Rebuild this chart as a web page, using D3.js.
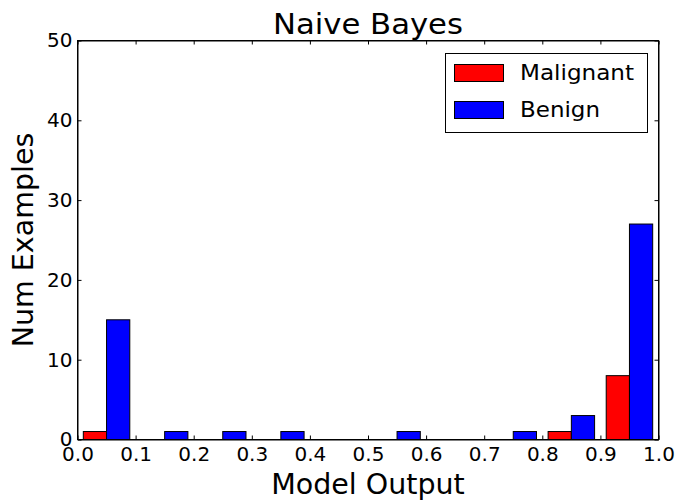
<!DOCTYPE html>
<html>
<head>
<meta charset="utf-8">
<script src="https://cdn.jsdelivr.net/npm/d3@7"></script>
<style>
  html, body { margin: 0; padding: 0; background: #fff; }
  svg { display: block; font-family: "DejaVu Sans", sans-serif; }
</style>
</head>
<body>
<svg id="chart" width="679" height="501"></svg>
<script>
// Histogram bins (left edges) and counts per class
const binStarts = [0.0, 0.1, 0.2, 0.3, 0.4, 0.5, 0.6, 0.7, 0.8, 0.9];
const binWidth = 0.1;
const malignantCounts = [1, 0, 0, 0, 0, 0, 0, 0, 1, 8];
const benignCounts    = [15, 1, 1, 1, 0, 1, 0, 1, 3, 27];
const seriesNames = ["Malignant", "Benign"];
const seriesColors = ["#ff0000", "#0000ff"];
const xTicks = [0.0, 0.1, 0.2, 0.3, 0.4, 0.5, 0.6, 0.7, 0.8, 0.9, 1.0];
const yTicks = [0, 10, 20, 30, 40, 50];

const svg = d3.select("#chart");
const plotL = 77.5, plotR = 658.5, plotT = 40.5, plotB = 439.5;

const x = d3.scaleLinear().domain([0, 1]).range([plotL, plotR]);
const y = d3.scaleLinear().domain([0, 50]).range([plotB, plotT]);

// bars: each series takes 40% of a bin, the pair centred in the bin
const barW = binWidth * 0.4;
const pad = binWidth * 0.1;
const series = [malignantCounts, benignCounts];
series.forEach((counts, si) => {
  svg.append("g").selectAll("rect")
    .data(binStarts.map((b, i) => ({ b, v: counts[i] })).filter(d => d.v > 0))
    .join("rect")
    .attr("x", d => x(d.b + pad + si * barW))
    .attr("width", d => x(d.b + pad + (si + 1) * barW) - x(d.b + pad + si * barW))
    .attr("y", d => y(d.v))
    .attr("height", d => y(0) - y(d.v))
    .attr("fill", seriesColors[si])
    .attr("stroke", "#000")
    .attr("stroke-width", 1);
});

// axes with inward ticks on all four sides
const fmtX = d3.format(".1f");
const tickFont = "20px";

const xb = svg.append("g").attr("transform", `translate(0,${plotB})`)
  .call(d3.axisBottom(x).tickValues(xTicks).tickFormat(fmtX).tickSizeInner(-4).tickSizeOuter(0).tickPadding(7));
const xt = svg.append("g").attr("transform", `translate(0,${plotT})`)
  .call(d3.axisTop(x).tickValues(xTicks).tickFormat("").tickSizeInner(-4).tickSizeOuter(0));
const yl = svg.append("g").attr("transform", `translate(${plotL},0)`)
  .call(d3.axisLeft(y).tickValues(yTicks).tickSizeInner(-4).tickSizeOuter(0).tickPadding(5));
const yr = svg.append("g").attr("transform", `translate(${plotR},0)`)
  .call(d3.axisRight(y).tickValues(yTicks).tickFormat("").tickSizeInner(-4).tickSizeOuter(0));

[xb, xt, yl, yr].forEach(g => {
  g.select(".domain").attr("stroke", "#000").attr("stroke-width", 1);
  g.selectAll(".tick line").attr("stroke", "#000").attr("stroke-width", 1);
  g.selectAll(".tick text").attr("fill", "#000")
    .style("font-size", tickFont).style("font-family", "DejaVu Sans");
});

// frame
svg.append("rect").attr("x", plotL).attr("y", plotT)
  .attr("width", plotR - plotL).attr("height", plotB - plotT)
  .attr("fill", "none").attr("stroke", "#000").attr("stroke-width", 1);

// title and axis labels
svg.append("text").attr("x", (plotL + plotR) / 2).attr("y", 34)
  .attr("text-anchor", "middle").style("font-size", "29px")
  .attr("textLength", 190).attr("lengthAdjust", "spacingAndGlyphs").text("Naive Bayes");
svg.append("text").attr("x", (plotL + plotR) / 2).attr("y", 494)
  .attr("text-anchor", "middle").style("font-size", "28.5px").text("Model Output");
svg.append("text").attr("transform", `translate(33,${(plotT + plotB) / 2}) rotate(-90)`)
  .attr("text-anchor", "middle").style("font-size", "28.5px").text("Num Examples");

// legend
const legendTextLen = [114, 80];
const lg = svg.append("g");
lg.append("rect").attr("x", 445.5).attr("y", 53.5).attr("width", 202).attr("height", 79)
  .attr("fill", "#fff").attr("stroke", "#000").attr("stroke-width", 1);
seriesNames.forEach((name, i) => {
  const yy = 64.5 + i * 37;
  lg.append("rect").attr("x", 454.5).attr("y", yy).attr("width", 49).attr("height", 17)
    .attr("fill", seriesColors[i]).attr("stroke", "#000").attr("stroke-width", 1);
  lg.append("text").attr("x", 520).attr("y", 80 + i * 37)
    .style("font-size", "21px")
    .attr("textLength", legendTextLen[i]).attr("lengthAdjust", "spacingAndGlyphs")
    .text(name);
});
</script>
</body>
</html>
